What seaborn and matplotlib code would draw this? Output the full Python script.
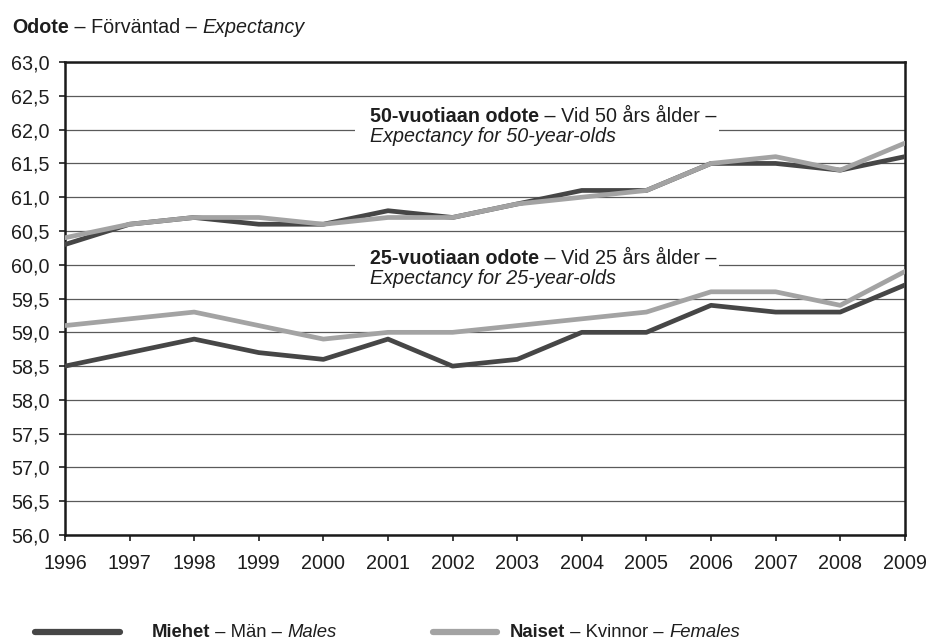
import matplotlib
matplotlib.use('Agg')
import matplotlib.pyplot as plt
import matplotlib.transforms as mtransforms
from matplotlib.patches import Rectangle
from matplotlib.lines import Line2D
import seaborn as sns
import pandas as pd

years = list(range(1996, 2010))
males_50 = [60.3, 60.6, 60.7, 60.6, 60.6, 60.8, 60.7, 60.9, 61.1, 61.1, 61.5, 61.5, 61.4, 61.6]
females_50 = [60.4, 60.6, 60.7, 60.7, 60.6, 60.7, 60.7, 60.9, 61.0, 61.1, 61.5, 61.6, 61.4, 61.8]
males_25 = [58.5, 58.7, 58.9, 58.7, 58.6, 58.9, 58.5, 58.6, 59.0, 59.0, 59.4, 59.3, 59.3, 59.7]
females_25 = [59.1, 59.2, 59.3, 59.1, 58.9, 59.0, 59.0, 59.1, 59.2, 59.3, 59.6, 59.6, 59.4, 59.9]
y_ticks = [56.0 + 0.5 * i for i in range(15)]

male_col = '#464646'
female_col = '#a3a3a3'
txt_col = '#1e1e1e'

sns.set_style('white')
plt.rcParams['font.family'] = ['Liberation Sans', 'DejaVu Sans']

fig = plt.figure(figsize=(9.28, 6.4), dpi=100)
ax = fig.add_axes([0.070, 0.164, 0.905, 0.739])

# Viivat: miehet alle, naiset päälle
for vals, col in [(males_50, male_col), (males_25, male_col),
                  (females_50, female_col), (females_25, female_col)]:
    df = pd.DataFrame({'Vuosi': years, 'Odote': vals})
    sns.lineplot(data=df, x='Vuosi', y='Odote', color=col, linewidth=3.4, ax=ax, zorder=3)

ax.set_xlim(1996, 2009)
ax.set_ylim(56, 63)
ax.set_xticks(years)
ax.set_xticklabels([str(y) for y in years], fontsize=14.2)
ax.set_yticks(y_ticks)
ax.set_yticklabels([f'{v:.1f}'.replace('.', ',') for v in y_ticks], fontsize=14.2)
ax.set_xlabel('')
ax.set_ylabel('')
ax.tick_params(axis='y', length=4, width=1.2, direction='out', left=True, pad=7, colors=txt_col)
ax.tick_params(axis='x', length=4, width=1.2, direction='out', bottom=True, pad=10, colors=txt_col)
ax.yaxis.grid(True, color='#5a5a5a', linewidth=0.9)
ax.set_axisbelow(True)
for s in ax.spines.values():
    s.set_color('#1a1a1a')
    s.set_linewidth(1.8)

renderer = fig.canvas.get_renderer()


def rich(x, y, parts, size, transform, zorder=5):
    dx = 0
    target = fig if transform is fig.transFigure else ax
    for txt, weight, style in parts:
        tr = mtransforms.offset_copy(transform, fig=fig, x=dx, y=0, units='dots')
        t = target.text(x, y, txt, transform=tr, fontsize=size, fontweight=weight,
                        fontstyle=style, va='baseline', ha='left', color=txt_col, zorder=zorder)
        dx += t.get_window_extent(renderer).width


# Otsikko
rich(12 / 928, 1 - 33 / 640,
     [('Odote', 'bold', 'normal'), (' – Förväntad – ', 'normal', 'normal'), ('Expectancy', 'normal', 'italic')],
     14.2, fig.transFigure)

# Selitteet kuvaajan sisällä
for grid_y, y1, y2, age in [(62.0, 62.11, 61.82, '50'), (60.0, 60.01, 59.71, '25')]:
    ax.add_patch(Rectangle((2000.49, grid_y - 0.06), 5.64, 0.12, facecolor='white',
                           edgecolor='none', zorder=2))
    rich(2000.72, y1, [(f'{age}-vuotiaan odote', 'bold', 'normal'),
                       (f' – Vid {age} års ålder –', 'normal', 'normal')], 14.2, ax.transData)
    rich(2000.72, y2, [(f'Expectancy for {age}-year-olds', 'normal', 'italic')], 14.2, ax.transData)

# Alaselite
for x0, x1, xt, col, parts in [
        (35, 120, 152, male_col, [('Miehet', 'bold', 'normal'), (' – Män – ', 'normal', 'normal'), ('Males', 'normal', 'italic')]),
        (433, 497, 510, female_col, [('Naiset', 'bold', 'normal'), (' – Kvinnor – ', 'normal', 'normal'), ('Females', 'normal', 'italic')])]:
    fig.add_artist(Line2D([x0 / 928, x1 / 928], [1 - 632 / 640] * 2, color=col, linewidth=4.5,
                          solid_capstyle='round', transform=fig.transFigure))
    rich(xt / 928, 1 - 637 / 640, parts, 13.3, fig.transFigure)

fig.savefig('out.png', dpi=100)
